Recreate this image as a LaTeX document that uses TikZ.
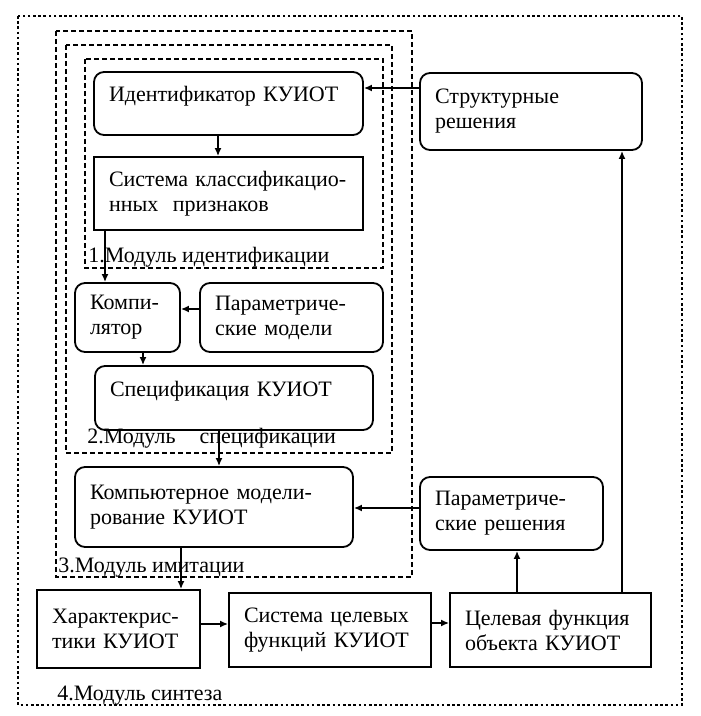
\documentclass[tikz,border=0pt]{standalone}
\usepackage{fontspec}
\setmainfont{Liberation Serif}
\usetikzlibrary{arrows.meta}

\begin{document}
\begin{tikzpicture}[
    x=0.5pt, y=-0.5pt,
    font=\fontsize{11}{12.5}\selectfont,
    box/.style = {draw, line width=0.9pt, align=left, inner xsep=7.5pt, inner ysep=0pt},
    rbox/.style = {box, rounded corners=5pt},
    oneline/.style = {text height=8pt, text depth=9.5pt},
    module/.style = {line width=0.8pt, dash pattern=on 2.5pt off 1.5pt},
    modlabel/.style = {anchor=base west, inner sep=0pt},
    arr/.style = {-{Latex[length=4pt,width=3.5pt]}, line width=0.8pt}
  ]
  \fill[white] (0,0) rectangle (700,716);
  % Modules.
  \draw[module, line width=1.1pt, dash pattern=on 1.3pt off 1.3pt] (18,16) rectangle (682,705);
  \draw[module] (56,31) rectangle (412,577);
  \draw[module] (66,45) rectangle (392,453);
  \draw[module, line width=0.6pt] (85,59) rectangle (383,268);
  \node[modlabel] (m1) at (88,263) {1.Модуль идентификации};
  \node[modlabel] (m2) at (87,443) {2.Модуль\hspace{12pt}спецификации};
  \node[modlabel] (m3) at (58,572) {3.Модуль имитации};
  \node[modlabel] (m4) at (57,700) {4.Модуль синтеза};

  % Module 1.
  \node[rbox, oneline, text width=119.5pt, minimum height=31.5pt] (ident) at (228.5,103.5) {Идентификатор~КУИОТ};
  \node[box, text width=119.5pt, minimum height=36.5pt] (sys) at (228.5,193.5) {Система~классификацио-\\нных~~признаков};
  % Module 2.
  \node[rbox, text width=37.5pt, minimum height=34.5pt] (comp) at (127.5,317.5) {Компи-\\лятор};
  \node[rbox, text width=76.5pt, minimum height=34.5pt] (pmod) at (291.5,317.5) {Параметриче-\\ские~модели};
  \node[rbox, oneline, text width=124pt, minimum height=32pt] (spec) at (234,398) {Спецификация~КУИОТ};
  % Module 3.
  \node[rbox, text width=124pt, minimum height=40pt] (cmod) at (214,507) {Компьютерное~модели-\\рование~КУИОТ};
  % Right side.
  \node[rbox, text width=96pt, minimum height=38.5pt] (struct) at (531,111.5) {Структурные\\решения};
  \node[rbox, text width=76.5pt, minimum height=36.5pt] (psol) at (511.5,513.5) {Параметриче-\\ские~решения};
  % Bottom row.
  \node[box, text width=66.5pt, minimum height=39pt] (char) at (118.5,629) {Характекрис-\\тики~КУИОТ};
  \node[box, text width=86pt, minimum height=37pt] (tsys) at (330,630) {Система~целевых\\функций~КУИОТ};
  \node[box, text width=85.5pt, minimum height=37pt] (tfun) at (550.5,630) {Целевая~функция\\объекта~КУИОТ};

  \draw[arr] (struct.west |- 0,88) -- (ident.east |- 0,88);
  \draw[arr] (ident.south -| 218,0) -- (sys.north -| 218,0);
  \draw[arr] (sys.south -| 105,0) -- (comp.north -| 105,0);
  \draw[arr] (pmod.west |- 0,309) -- (comp.east |- 0,309);
  \draw[arr] (comp.south -| 143,0) -- (spec.north -| 143,0);
  \draw[arr] (spec.south -| 219,0) -- (cmod.north -| 219,0);
  \draw[arr] (psol.west |- 0,508) -- (cmod.east |- 0,508);
  \draw[arr] (cmod.south -| 181,0) -- (char.north -| 181,0);
  \draw[arr] (char.east |- 0,624) -- (tsys.west |- 0,624);
  \draw[arr] (tsys.east |- 0,623) -- (tfun.west |- 0,623);
  \draw[arr] (tfun.north -| 517,0) -- (psol.south -| 517,0);
  \draw[arr] (tfun.north -| 622,0) -- (struct.south -| 622,0);
\end{tikzpicture}
\end{document}
